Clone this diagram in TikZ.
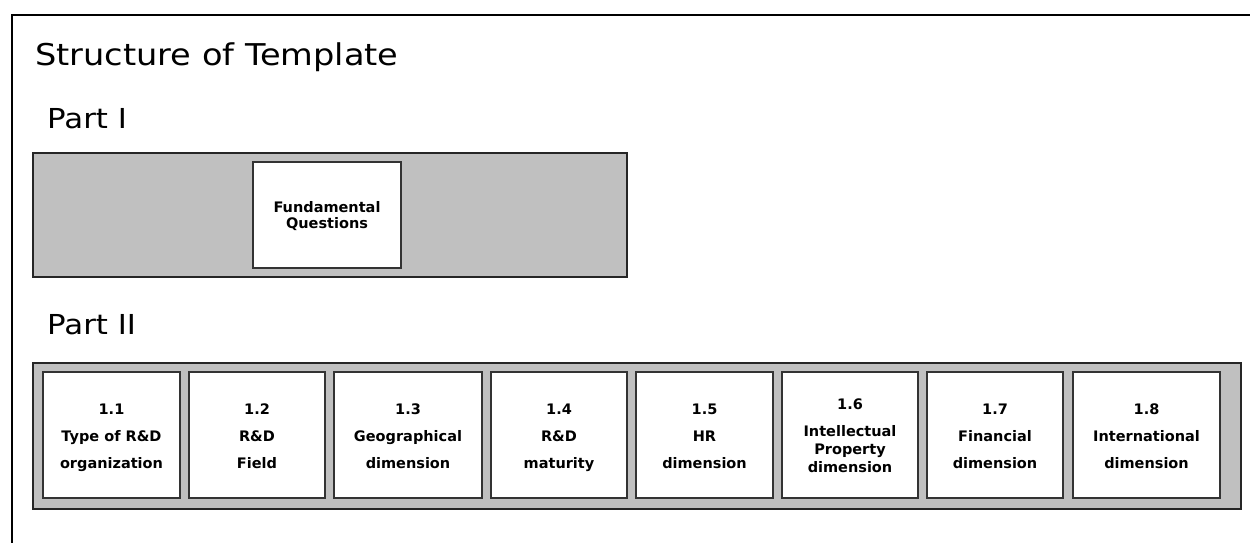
\documentclass[tikz,border=0pt]{standalone}
\usepackage{fontspec}
\setmainfont{DejaVu Sans}
\newfontfamily\headfont[FakeStretch=1.12]{DejaVu Sans}
\definecolor{panelgray}{HTML}{C0C0C0}
\newcommand\bxs{\rule[-7.5pt]{0pt}{27pt}}
\newcommand\fqs{\rule[-3pt]{0pt}{16.5pt}}
\begin{document}
\begin{tikzpicture}[x=1pt,y=-1pt,
  panel/.style={draw=black!85, fill=panelgray, line width=1.1pt, inner sep=0pt},
  itembox/.style={draw=black!80, fill=white, line width=1.1pt, inner sep=0pt,
    font=\fontsize{14.5}{27}\selectfont\bfseries, align=center, minimum height=126pt},
  heading/.style={anchor=base west, inner sep=0pt}]
\useasboundingbox (0,0) rectangle (1250,543);
% outer frame
\draw[line width=1.5pt] (12,543) -- (12,15) -- (1250,15);
% headings
\node[heading, font=\headfont\fontsize{30}{36}\selectfont] (title) at (35,66) {Structure of Template};
\node[heading, font=\headfont\fontsize{27.5}{32}\selectfont] (part1) at (47,128) {Part I};
\node[heading, font=\headfont\fontsize{27.5}{32}\selectfont] (part2) at (47,334) {Part II};
% Part I
\node[panel, minimum width=594pt, minimum height=124pt] (p1) at (330,215) {};
\node[itembox, minimum width=148pt, minimum height=106pt,
  font=\fontsize{14.5}{16.5}\selectfont\bfseries] (fq) at (327,215) {\fqs Fundamental\\\fqs Questions};
% Part II
\node[panel, minimum width=1208pt, minimum height=146pt] (p2) at (637,436) {};
\node[itembox, minimum width=137pt] (b1) at (111.5,435) {\bxs 1.1\\\bxs Type of R\&D\\\bxs organization};
\node[itembox, minimum width=136pt] (b2) at (257,435) {\bxs 1.2\\\bxs R\&D\\\bxs Field};
\node[itembox, minimum width=148pt] (b3) at (408,435) {\bxs 1.3\\\bxs Geographical\\\bxs dimension};
\node[itembox, minimum width=136pt] (b4) at (559,435) {\bxs 1.4\\\bxs R\&D\\\bxs maturity};
\node[itembox, minimum width=137pt] (b5) at (704.5,435) {\bxs 1.5\\\bxs HR\\\bxs dimension};
\node[itembox, minimum width=136pt] (b6) at (850,435) {\bxs 1.6\\\bxs Intellectual\\[-9pt]\bxs Property\\[-9pt]\bxs dimension};
\node[itembox, minimum width=136pt] (b7) at (995,435) {\bxs 1.7\\\bxs Financial\\\bxs dimension};
\node[itembox, minimum width=147pt] (b8) at (1146.5,435) {\bxs 1.8\\\bxs International\\\bxs dimension};
\end{tikzpicture}
\end{document}
